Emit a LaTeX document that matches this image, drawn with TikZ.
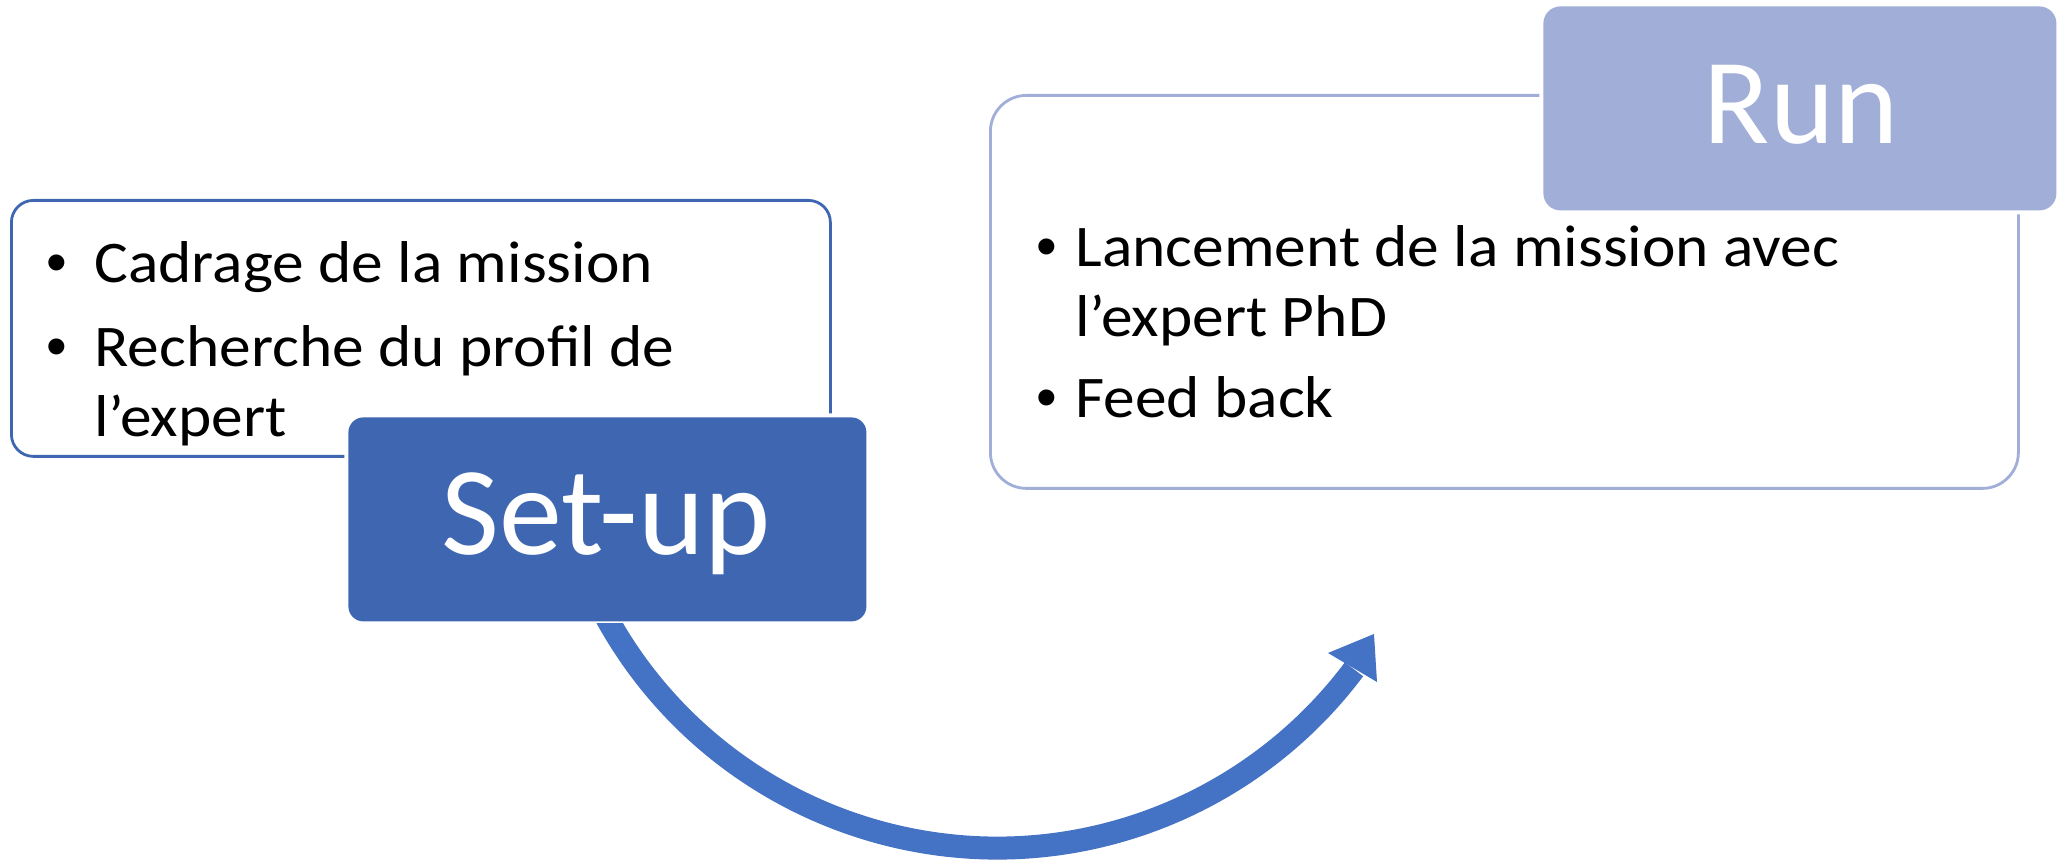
\documentclass[tikz,border=0pt]{standalone}
\usepackage{fontspec}
\setmainfont{Carlito}
\newfontfamily\itemfont[FakeStretch=1.075]{Carlito}
\newfontfamily\bulletfont{Liberation Sans}
\definecolor{setupblue}{RGB}{63,103,177}
\definecolor{arrowblue}{RGB}{68,114,196}
\definecolor{runblue}{RGB}{160,174,216}
\begin{document}
\begin{tikzpicture}[x=0.5pt,y=0.5pt,
  listbox/.style={draw=#1, line width=1.4pt, fill=white, anchor=north west, inner sep=0pt},
  titlebox/.style={fill=#1, anchor=north west, inner sep=0pt,
     preaction={draw=white, line width=4pt}},
  itemtext/.style={anchor=base west, inner sep=0pt, font=\fontsize{29.5}{35}\itemfont},
  bullettext/.style={anchor=base west, inner sep=0pt, font=\fontsize{29.5}{35}\bulletfont},
  titletext/.style={anchor=base, inner sep=0pt, text=white, font=\fontsize{63}{75}\selectfont}]
\useasboundingbox (0,0) rectangle (2058,-860);
% left list box
\node[listbox=setupblue, minimum width=409.5pt, minimum height=128pt, rounded corners=11pt] (leftbox) at (10,-199) {};
% right list box
\node[listbox=runblue, minimum width=514pt, minimum height=196.5pt, rounded corners=18pt] (rightbox) at (989,-94) {};
% title boxes
\node[titlebox=setupblue, minimum width=259pt, minimum height=102pt, rounded corners=7.5pt] (setup) at (348,-417) {};
\node[titlebox=runblue, minimum width=256.5pt, minimum height=102pt, rounded corners=8.5pt] (run) at (1543,-6) {};
\node[titletext] (setuptxt) at (606,-555) {Set-up};
\node[titletext, font=\fontsize{61}{73}\selectfont] (runtxt) at (1801,-144) {Run};
% left items
\node[bullettext] (b1) at (46,-283) {•};
\node[itemtext] (t1) at (94,-283) {Cadrage de la mission};
\node[bullettext] (b2) at (46,-367) {•};
\node[itemtext] (t2) at (94,-367) {Recherche du profil de};
\node[itemtext] (t3) at (94,-437) {l’expert};
% right items
\node[bullettext] (b3) at (1036,-267) {•};
\node[itemtext] (t4) at (1075,-267) {Lancement de la mission avec};
\node[itemtext] (t5) at (1075,-337) {l’expert PhD};
\node[bullettext] (b4) at (1036,-418) {•};
\node[itemtext] (t6) at (1075,-418) {Feed back};
% curved arrow
\coordinate (arcC) at (997,-402);
\begin{scope}
\clip (0,-624) rectangle (2058,-860);
\draw[arrowblue, line width=11.5pt] (arcC) ++(205:446) arc[start angle=205, end angle=323.17, radius=446];
\fill[arrowblue] (1328,-653) -- (1374,-634) -- (1377,-682) -- cycle;
\end{scope}
\end{tikzpicture}
\end{document}
